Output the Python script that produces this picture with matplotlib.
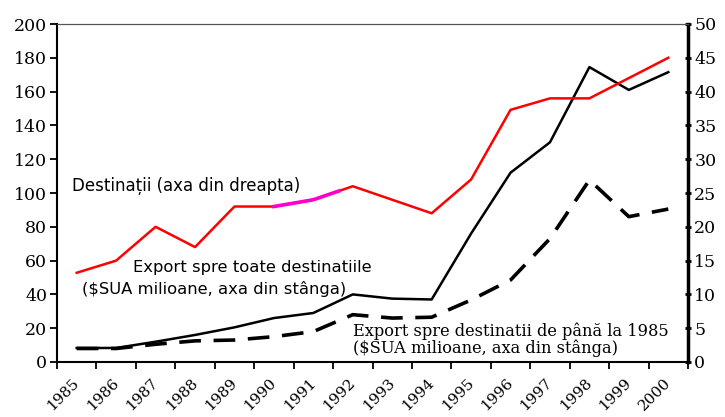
import numpy as np
import matplotlib.pyplot as plt

# Date
years = [str(y) for y in range(1985, 2001)]
destinatii = [13.2, 15, 20, 17, 23, 23, 24, 26, 24, 22, 27, 37.3, 39, 39, 42, 45]        # axa din dreapta
export_toate = [8.3, 8.3, 12, 16, 20.5, 26, 29, 40, 37.5, 37, 76, 112, 130, 174.5, 161, 171.5]  # axa din stanga
export_1985 = [8, 8, 10.5, 12.5, 13, 15, 18, 28, 26, 26.5, 36.7, 48.5, 73, 107.7, 86, 90.5]    # axa din stanga

x = np.arange(len(years)) + 0.5

fig = plt.figure(figsize=(7.25, 4.17), dpi=100)
ax = fig.add_axes([57 / 725, 1 - 362 / 417, 631 / 725, 338 / 417])
ax2 = ax.twinx()

serif = 'DejaVu Serif'
sans = 'DejaVu Sans'

# Linii pe axa stanga
ax.plot(x, export_toate, color='black', lw=1.8, solid_joinstyle='round')
ax.plot(x, export_1985, color='black', lw=2.6, dashes=(6, 3.5))

# Linia rosie pe axa dreapta, cu portiunea magenta
ax2.plot(x, destinatii, color='#ff0000', lw=1.8)
xm = np.linspace(x[5], x[6] + 0.65, 20)
ax2.plot(xm, np.interp(xm, x, destinatii), color='#ff00cc', lw=2.6)

ax.set_xlim(0, len(years))
ax.set_ylim(0, 200)
ax2.set_ylim(0, 50)

ax.set_yticks(range(0, 201, 20))
ax2.set_yticks(range(0, 51, 5))
ax.set_xticks(np.arange(0, len(years) + 1), minor=True)
ax.set_xticks(x - 0.12)
ax.set_xticklabels(years, rotation=45, ha='right', va='top', rotation_mode='anchor',
                   fontfamily=serif, fontsize=11)
ax.tick_params(axis='x', which='major', length=0, pad=10)
ax.tick_params(axis='x', which='minor', length=5, width=1.3, direction='out')
for lab in ax.get_yticklabels():
    lab.set_fontfamily(serif)
for lab in ax2.get_yticklabels():
    lab.set_fontfamily(serif)
ax.tick_params(axis='y', length=5, width=1.3, labelsize=12.5, pad=2)
ax2.tick_params(axis='y', length=5, width=2, labelsize=12.5, pad=2, direction='inout')

for a in (ax, ax2):
    a.spines['top'].set_color('#555555')
    a.spines['top'].set_linewidth(0.8)
ax.spines['left'].set_linewidth(1.5)
ax.spines['bottom'].set_linewidth(1.5)
ax2.spines['right'].set_linewidth(2.5)
ax2.spines['left'].set_visible(False)
ax2.spines['bottom'].set_visible(False)

# Etichete
ax.text(0.38, 104, 'Destinații (axa din dreapta)', fontfamily=sans, fontsize=12, va='center')
ax.text(1.93, 56, 'Export spre toate destinatiile', fontfamily=sans, fontsize=11.8, va='center')
ax.text(0.63, 43, '($SUA milioane, axa din stânga)', fontfamily=sans, fontsize=11.8, va='center')
ax.text(7.5, 13, 'Export spre destinatii de până la 1985\n($SUA milioane, axa din stânga)',
        fontfamily=serif, fontsize=11.7, va='center', linespacing=0.95)

plt.savefig('out.png', dpi=100)
